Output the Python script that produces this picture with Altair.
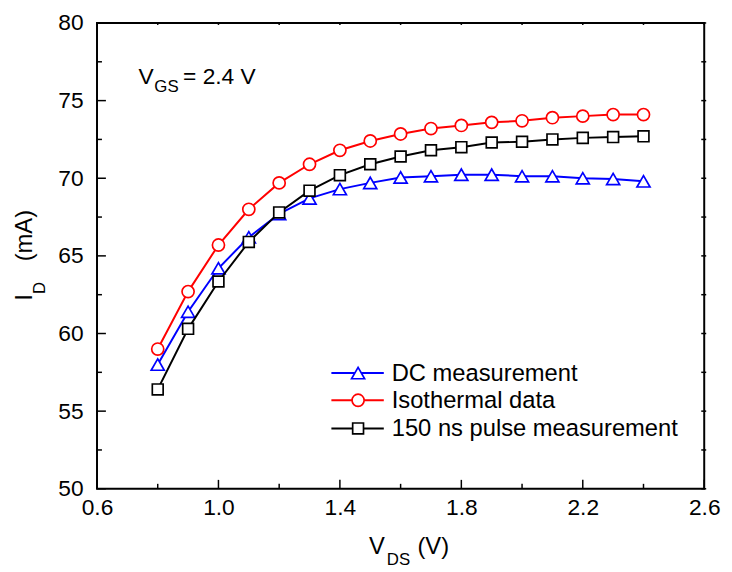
import altair as alt
import pandas as pd

# ---- data ----
vds = [0.8, 0.9, 1.0, 1.1, 1.2, 1.3, 1.4, 1.5, 1.6, 1.7, 1.8, 1.9, 2.0, 2.1, 2.2, 2.3, 2.4]
dc_measurement = [58.0, 61.4, 64.2, 66.2, 67.7, 68.7, 69.3, 69.7, 70.05, 70.13, 70.23, 70.23,
                  70.13, 70.13, 70.0, 69.95, 69.8]
isothermal = [59.0, 62.7, 65.7, 68.0, 69.7, 70.9, 71.8, 72.4, 72.85, 73.2, 73.4, 73.6,
              73.7, 73.9, 74.0, 74.1, 74.1]
pulse_150ns = [56.4, 60.3, 63.35, 65.9, 67.8, 69.2, 70.2, 70.9, 71.4, 71.8, 72.0, 72.3,
               72.35, 72.5, 72.6, 72.65, 72.7]

series_names = ["DC measurement", "Isothermal data", "150 ns pulse measurement"]
series_values = [dc_measurement, isothermal, pulse_150ns]
series_colors = ["#0000FF", "#FF0000", "#000000"]
series_shapes = ["triangle-up", "circle", "square"]
series_sizes = [175, 150, 120]

x_major = [0.6, 1.0, 1.4, 1.8, 2.2, 2.6]
x_minor = [0.8, 1.2, 1.6, 2.0, 2.4]
y_major = [50, 55, 60, 65, 70, 75, 80]
y_minor = [52.5, 57.5, 62.5, 67.5, 72.5, 77.5]

W, H = 614, 471
FONT = "Liberation Sans"

xscale = alt.Scale(domain=[0.6, 2.6], nice=False, zero=False)
yscale = alt.Scale(domain=[50, 80], nice=False, zero=False)

xaxis = alt.Axis(values=x_major, format=".1f", title=None, domain=False, ticks=False,
                 grid=False, labelFontSize=23, labelFont=FONT, labelColor="black",
                 labelPadding=8, labelFlush=False)
yaxis = alt.Axis(values=y_major, format="d", title=None, domain=False, ticks=False,
                 grid=False, labelFontSize=23, labelFont=FONT, labelColor="black",
                 labelPadding=14)

layers = []

# series lines + markers
for name, vals, col, shp, sz in zip(series_names, series_values, series_colors,
                                    series_shapes, series_sizes):
    df = pd.DataFrame({"x": vds, "y": vals})
    base = alt.Chart(df)
    line = base.mark_line(color=col, strokeWidth=2).encode(
        x=alt.X("x:Q", scale=xscale, axis=xaxis),
        y=alt.Y("y:Q", scale=yscale, axis=yaxis),
    )
    pts = base.mark_point(shape=shp, size=sz, fill="white", stroke=col,
                          strokeWidth=1.7, opacity=1, filled=False).encode(
        x=alt.X("x:Q", scale=xscale),
        y=alt.Y("y:Q", scale=yscale),
    )
    layers += [line, pts]

# inward ticks
def xticks(vals, length, top=False):
    d = pd.DataFrame({"t": vals})
    if top:
        return alt.Chart(d).mark_rule(color="black", strokeWidth=1.5).encode(
            x=alt.X("t:Q", scale=xscale), y=alt.value(0), y2=alt.value(length))
    return alt.Chart(d).mark_rule(color="black", strokeWidth=1.5).encode(
        x=alt.X("t:Q", scale=xscale), y=alt.value(H), y2=alt.value(H - length))

def yticks(vals, length, right=False):
    d = pd.DataFrame({"t": vals})
    if right:
        return alt.Chart(d).mark_rule(color="black", strokeWidth=1.5).encode(
            y=alt.Y("t:Q", scale=yscale), x=alt.value(W - length), x2=alt.value(W + 2))
    return alt.Chart(d).mark_rule(color="black", strokeWidth=1.5).encode(
        y=alt.Y("t:Q", scale=yscale), x=alt.value(0), x2=alt.value(length))

layers += [xticks(x_major, 9), xticks(x_minor, 5), xticks(x_major, 2, top=True),
           xticks(x_minor, 2, top=True),
           yticks(y_major, 9), yticks(y_minor, 5), yticks(y_major, 3, right=True),
           yticks(y_minor, 3, right=True)]

# legend (drawn manually: line with marker through it)
one = pd.DataFrame({"a": [0]})
leg_y = [354, 381.5, 410]
for name, col, shp, sz, ly in zip(series_names, series_colors, series_shapes,
                                   series_sizes, leg_y):
    layers.append(alt.Chart(one).mark_rule(color=col, strokeWidth=2).encode(
        x=alt.value(237), x2=alt.value(290), y=alt.value(ly)))
    layers.append(alt.Chart(one).mark_point(shape=shp, size=sz, fill="white", stroke=col,
                                            strokeWidth=1.7, opacity=1).encode(
        x=alt.value(264), y=alt.value(ly)))
    layers.append(alt.Chart(one).mark_text(text=name, font=FONT, fontSize=24, align="left",
                                           baseline="alphabetic", color="black").encode(
        x=alt.value(298), y=alt.value(ly + 8)))

# annotation V_GS = 2.4 V
def txt(s, x, y, size, angle=0):
    kw = dict(text=s, font=FONT, fontSize=size, align="left", baseline="alphabetic",
              color="black")
    if angle:
        kw["angle"] = angle
    return alt.Chart(one).mark_text(**kw).encode(x=alt.value(x), y=alt.value(y))

layers += [txt("V", 42, 62, 23), txt("GS", 58, 69.5, 17), txt("= 2.4 V", 87, 62, 23)]

# x-axis title V_DS (V)
layers += [txt("V", 275, 537, 24), txt("DS", 293, 548, 17), txt("(V)", 324, 537, 24)]

# y-axis title I_D (mA)
layers += [txt("I", -66, 281, 24, 270), txt("D", -53, 274, 17, 270),
           txt("(mA)", -66, 241, 24, 270)]

chart = alt.layer(*layers).properties(
    width=W, height=H,
    autosize=alt.AutoSizeParams(type="none"),
    padding={"left": 90, "top": 12, "right": 20, "bottom": 80},
).configure_view(stroke="black", strokeWidth=2).configure_axis(labelFont=FONT)

chart.save("out.html", embed_options={"renderer": "svg", "actions": False})
